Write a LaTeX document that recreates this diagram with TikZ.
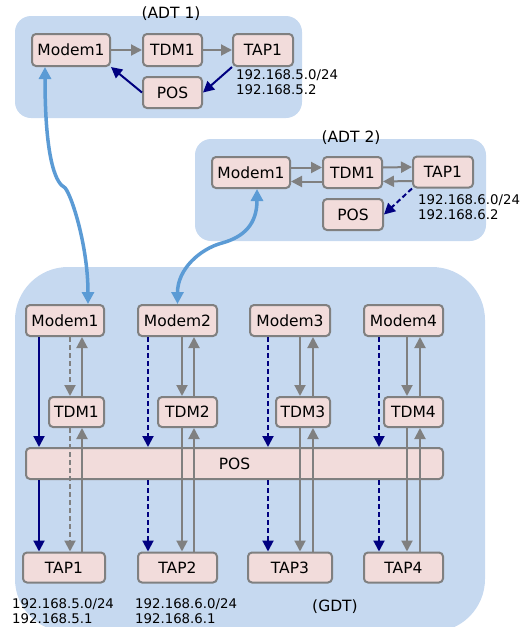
\documentclass[tikz,border=0pt]{standalone}
\usepackage{fontspec}
\setmainfont{DejaVu Sans}
\usetikzlibrary{arrows.meta}
\definecolor{bgblue}{RGB}{198,217,240}
\definecolor{boxpink}{RGB}{242,220,219}
\definecolor{boxgray}{RGB}{128,128,128}
\definecolor{darknavy}{RGB}{0,0,128}
\definecolor{linkblue}{RGB}{91,155,213}
\begin{document}
\begin{tikzpicture}[x=1pt,y=-1pt,>={Triangle[length=11pt,width=11pt]},
	unit/.style={draw=boxgray,line width=2pt,fill=boxpink,rounded corners=4pt,minimum height=31pt,inner sep=0pt,font=\fontsize{15.5}{18}\selectfont},
	area/.style={fill=bgblue,rounded corners=16pt},
	gry/.style={->,draw=boxgray,line width=2pt},
	nvy/.style={->,draw=darknavy,line width=2pt},
	dsh/.style={dash pattern=on 5pt off 3pt},
	lnk/.style={{Triangle[length=12pt,width=12pt]}-{Triangle[length=12pt,width=12pt]},draw=linkblue,line width=3.5pt},
	ip/.style={align=left,inner sep=0pt,anchor=north west,font=\fontsize{13.3}{15}\selectfont},
	title/.style={inner sep=0pt,font=\fontsize{15.5}{18}\selectfont}]
	\clip (0,0) rectangle (526,627);
	\fill[area] (15,16) rectangle (302,118);
	\fill[area] (195,139) rectangle (486,241);
	\fill[area,rounded corners=53pt] (15,267) rectangle (485,632);
	\node[title] (t1) at (171,14) {(ADT 1)};
	\node[title] (t2) at (351,138) {(ADT 2)};
	\node[title] (t3) at (335,607) {(GDT)};

	\node[unit,minimum width=78pt,minimum height=32pt] (a1m) at (71,50) {Modem1};
	\node[unit,minimum width=59pt,minimum height=32pt] (a1t) at (172.5,50) {TDM1};
	\node[unit,minimum width=60pt,minimum height=32pt] (a1p) at (263,50) {TAP1};
	\node[unit,minimum width=59pt] (a1s) at (172.5,92.5) {POS};
	\node[ip] (a1ip) at (236,69) {192.168.5.0/24\\192.168.5.2};
	\draw[gry] (a1m) -- (a1t);
	\draw[gry] (a1t) -- (a1p);
	\draw[nvy] (a1p.south west) -- (a1s.east);
	\draw[nvy] (a1s.west) -- (a1m.south east);

	\node[unit,minimum width=78pt] (a2m) at (251,172.5) {Modem1};
	\node[unit,minimum width=59pt] (a2t) at (352.5,172.5) {TDM1};
	\node[unit,minimum width=60pt] (a2p) at (443,172) {TAP1};
	\node[unit,minimum width=60pt] (a2s) at (353,214.5) {POS};
	\node[ip] (a2ip) at (418,194) {192.168.6.0/24\\192.168.6.2};
	\draw[gry] ([yshift=5pt]a2m.east) -- ([yshift=5pt]a2t.west);
	\draw[gry] ([yshift=-9pt]a2t.west) -- ([yshift=-9pt]a2m.east);
	\draw[gry] ([yshift=5pt]a2t.east) -- ([yshift=5pt]a2p.west);
	\draw[gry] ([yshift=-9pt]a2p.west) -- ([yshift=-9pt]a2t.east);
	\draw[nvy,dsh] (a2p.south west) -- (a2s.east);

	\foreach \i/\x/\w in {1/65/78,2/177.5/79,3/290/80,4/403.5/79}
		\node[unit,minimum width=\w pt] (gm\i) at (\x,320.5) {Modem\i};
	\foreach \i/\x/\w in {1/76.5/55,2/187.5/59,3/303/54,4/413.5/59}
		\node[unit,minimum width=\w pt,minimum height=30pt] (gt\i) at (\x,412) {TDM\i};
	\foreach \i/\x/\w in {1/64/82,2/177.5/79,3/290/84,4/403.5/79}
		\node[unit,minimum width=\w pt,minimum height=30pt] (gp\i) at (\x,567.5) {TAP\i};
	\node[unit,minimum width=417pt] (pos) at (234.5,463.5) {POS};
	\node[ip] (g1ip) at (12,598) {192.168.5.0/24\\192.168.5.1};
	\node[ip] (g2ip) at (135,598) {192.168.6.0/24\\192.168.6.1};

	\foreach \i/\nx/\dx/\ux/\ns/\gs in {1/39/70/82/solid/dsh,2/148/182/194/dsh/solid,3/268/300/313/dsh/solid,4/379/407/420/dsh/solid}{
		\coordinate (cn) at (\nx,0);
		\coordinate (cd) at (\dx,0);
		\coordinate (cu) at (\ux,0);
		\draw[nvy,\ns] (gm\i.south -| cn) -- (pos.north -| cn);
		\draw[nvy,\ns] (pos.south -| cn) -- (gp\i.north -| cn);
		\draw[gry,\gs] (gm\i.south -| cd) -- (gt\i.north -| cd);
		\draw[gry,\gs] (gt\i.south -| cd) -- (gp\i.north -| cd);
		\draw[gry] (gp\i.north -| cu) -- (gt\i.south -| cu);
		\draw[gry] (gt\i.north -| cu) -- (gm\i.south -| cu);
	}

	\coordinate (kink1) at (64,187);
	\coordinate (kink2) at (222,243);
	\draw[lnk] ([xshift=-26pt]a1m.south) .. controls +(0,100) and +(-6,-3) .. (kink1) .. controls +(6,3) and +(0,-60) .. ([xshift=23pt]gm1.north);
	\draw[lnk] (gm2.north) .. controls +(0,-35) and +(-22,6) .. (kink2) .. controls +(22,-6) and +(0,35) .. ([xshift=6pt]a2m.south);
\end{tikzpicture}
\end{document}
